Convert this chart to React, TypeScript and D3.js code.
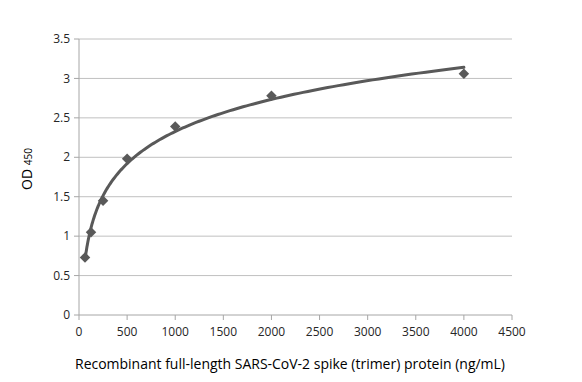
import React from "react";
import * as d3 from "d3";

const concentrations = [62.5, 125, 250, 500, 1000, 2000, 4000];
const odValues = [0.73, 1.05, 1.45, 1.98, 2.39, 2.78, 3.06];
const xTicks = [0, 500, 1000, 1500, 2000, 2500, 3000, 3500, 4000, 4500];
const yTicks = [0, 0.5, 1, 1.5, 2, 2.5, 3, 3.5];
const xTitle = "Recombinant full-length SARS-CoV-2 spike (trimer) protein (ng/mL)";

const W = 582, H = 382;
const left = 79, right = 512, top = 39, bottom = 315;

export default function App() {
  const x = d3.scaleLinear().domain([0, 4500]).range([left, right]);
  const y = d3.scaleLinear().domain([0, 3.5]).range([bottom, top]);

  // logarithmic least-squares trendline computed from data
  const lx = concentrations.map(Math.log);
  const mx = d3.mean(lx)!;
  const my = d3.mean(odValues)!;
  const sxy = d3.sum(lx.map((v, i) => (v - mx) * (odValues[i] - my)));
  const sxx = d3.sum(lx.map((v) => (v - mx) ** 2));
  const a = sxy / sxx;
  const b = my - a * mx;
  const x0 = concentrations[0], x1 = concentrations[concentrations.length - 1];
  const curve = d3.range(0, 201).map((i) => {
    const c = Math.exp(Math.log(x0) + (Math.log(x1) - Math.log(x0)) * (i / 200));
    return [c, a * Math.log(c) + b] as [number, number];
  });
  const line = d3.line<[number, number]>().x((d) => x(d[0])).y((d) => y(d[1]));
  const diamond = d3.symbol().type(d3.symbolDiamond2).size(70)();

  const font = "Open Sans, Noto Sans, sans-serif";
  return (
    <svg width={W} height={H} style={{ position: "absolute", left: 0, top: 0, background: "#fff" }}>
      {yTicks.filter((t) => t > 0).map((t) => (
        <line key={t} x1={left} x2={right} y1={y(t)} y2={y(t)} stroke="#c0c0c0" strokeWidth={1} />
      ))}
      <line x1={left} x2={left} y1={top} y2={bottom} stroke="#a6a6a6" />
      <line x1={left} x2={right} y1={bottom} y2={bottom} stroke="#a6a6a6" />
      {yTicks.map((t) => (
        <g key={t}>
          <line x1={left - 5} x2={left} y1={y(t)} y2={y(t)} stroke="#a6a6a6" />
          <text x={70} y={y(t)} dy="0.35em" textAnchor="end" fontFamily={font} fontSize={12} fill="#262626">{t}</text>
        </g>
      ))}
      {xTicks.map((t) => (
        <g key={t}>
          <line x1={x(t)} x2={x(t)} y1={bottom} y2={bottom + 5} stroke="#a6a6a6" />
          <text x={x(t)} y={332} dy="0.35em" textAnchor="middle" fontFamily={font} fontSize={12} fill="#262626">{t}</text>
        </g>
      ))}
      <path d={line(curve)!} fill="none" stroke="#595959" strokeWidth={3} strokeLinecap="round" />
      {concentrations.map((c, i) => (
        <path key={c} d={diamond!} transform={`translate(${x(c)},${y(odValues[i])})`} fill="#595959" />
      ))}
      <text x={75} y={364} dy="0.35em" fontFamily={font} fontSize={14} fill="#000" textLength={430} lengthAdjust="spacingAndGlyphs">{xTitle}</text>
      <text transform="translate(32,169) rotate(-90)" textAnchor="middle" fontFamily={font} fontSize={14} fill="#000">
        OD <tspan fontSize={10}>450</tspan>
      </text>
    </svg>
  );
}
